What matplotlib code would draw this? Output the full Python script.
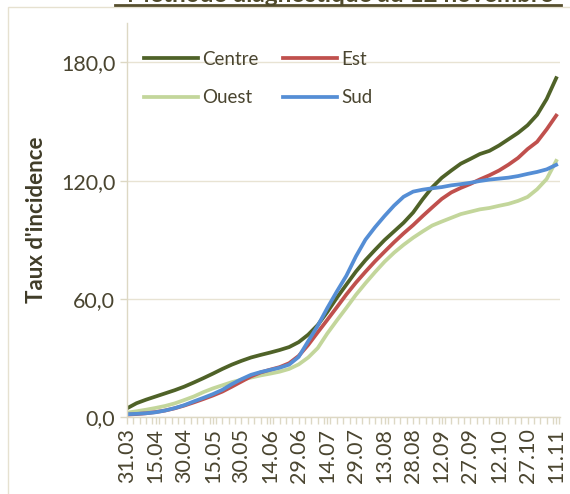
import numpy as np
import matplotlib
matplotlib.use("Agg")
import matplotlib.pyplot as plt
from matplotlib.lines import Line2D
from matplotlib.patches import Rectangle

plt.rcParams['font.family'] = ['Lato', 'DejaVu Sans']

# DATA (jours depuis le 31.03, un point tous les 5 jours)
days = list(range(0, 226, 5))

centre = [4.4, 7.0, 8.8, 10.4, 12.0, 13.6, 15.4, 17.5, 19.7, 22.0,
          24.4, 26.6, 28.5, 30.2, 31.5, 32.7, 34.0, 35.5, 38.0, 41.8,
          46.7, 53.3, 60.5, 67.2, 73.8, 79.6, 84.8, 89.8, 94.2, 98.6,
          103.8, 110.5, 116.6, 121.4, 125.1, 128.6, 131.0, 133.5, 135.1, 137.8,
          141.0, 144.2, 148.1, 153.4, 161.4, 172.0]

est = [1.2, 1.5, 1.9, 2.5, 3.3, 4.4, 5.8, 7.4, 9.1, 10.9,
       12.9, 15.4, 18.0, 20.6, 22.6, 24.0, 25.3, 27.3, 31.0, 36.6,
       43.0, 49.3, 55.7, 62.2, 68.2, 73.7, 79.0, 83.9, 88.7, 93.2,
       97.4, 102.0, 106.4, 110.7, 114.0, 116.3, 118.3, 120.6, 122.7, 125.1,
       128.1, 131.5, 136.0, 139.7, 146.0, 153.0]

ouest = [2.2, 2.9, 3.7, 4.6, 5.6, 6.9, 8.6, 10.4, 12.6, 14.5,
         16.1, 17.7, 18.9, 20.0, 21.1, 22.0, 23.0, 24.4, 26.7, 30.2,
         35.0, 42.4, 49.0, 55.4, 62.0, 67.9, 73.5, 78.8, 83.4, 87.4,
         91.0, 94.2, 97.2, 99.2, 101.1, 103.0, 104.2, 105.4, 106.1, 107.2,
         108.2, 109.7, 111.7, 115.6, 120.8, 130.0]

sud = [1.4, 1.6, 1.9, 2.4, 3.3, 4.5, 6.0, 7.9, 9.7, 11.6,
       13.8, 16.7, 19.2, 21.4, 22.8, 23.9, 25.0, 26.6, 30.5, 38.5,
       46.3, 55.3, 63.7, 71.7, 81.5, 90.0, 96.3, 102.0, 107.3, 111.8,
       114.4, 115.4, 116.1, 116.7, 117.6, 118.2, 118.9, 119.8, 120.5, 121.0,
       121.5, 122.3, 123.4, 124.4, 125.7, 128.0]

date_labels = ["31.03", "15.04", "30.04", "15.05", "30.05", "14.06", "29.06", "14.07",
               "29.07", "13.08", "28.08", "12.09", "27.09", "12.10", "27.10", "11.11"]
y_ticks = [0, 60, 120, 180]

text_col = "#4a4530"
grid_col = "#e8e3d3"

fig = plt.figure(figsize=(5.7, 4.94), dpi=100)
ax = fig.add_axes([127/570, 77/494, 433/570, 394/494])

ax.plot(days, centre, color="#4f6228", lw=2.7, label="Centre")
ax.plot(days, ouest, color="#c3d69b", lw=2.7, label="Ouest")
ax.plot(days, est, color="#c0504d", lw=2.7, label="Est")
ax.plot(days, sud, color="#558ed5", lw=2.7, label="Sud")

ax.set_xlim(0, 227)
ax.set_ylim(0, 200)
ax.set_yticks(y_ticks)
ax.set_yticklabels([f"{v:.1f}".replace(".", ",") for v in y_ticks])
ax.set_xticks([15 * i for i in range(len(date_labels))])
ax.set_xticklabels(date_labels, rotation=90)
ax.set_xticks(np.arange(0, 227, 10 / 3), minor=True)

for s in ["top", "right"]:
    ax.spines[s].set_visible(False)
for s in ["left", "bottom"]:
    ax.spines[s].set_color("#ddd8c4")
    ax.spines[s].set_linewidth(1.0)

ax.grid(axis="y", color=grid_col, lw=1.0)
ax.set_axisbelow(True)
ax.tick_params(axis="both", which="both", color="#ddd8c4", length=5, width=1,
               labelcolor=text_col, labelsize=15.5)
ax.tick_params(axis="x", which="minor", length=5)
ax.tick_params(axis="x", pad=3)

ax.set_ylabel("Taux d'incidence", fontsize=16, fontweight="bold", color="#403c28", labelpad=10)

leg = ax.legend(ncol=2, loc="upper left", bbox_to_anchor=(0.039, 0.93), frameon=False,
                fontsize=13.5, handlelength=2.9, handletextpad=0.2, columnspacing=1.3,
                labelspacing=1.15, borderpad=0, borderaxespad=0)
for t in leg.get_texts():
    t.set_color(text_col)

# titre coupé en haut + soulignement
fig.text(340/570, 1 - 2.0/494, "Méthode diagnostique au 12 novembre", ha="center", va="baseline",
         fontsize=17.5, fontweight="bold", color="#4f4a2a")
fig.add_artist(Line2D([115/570, 561/570], [1 - 5.3/494, 1 - 5.3/494], color="#574f2e", lw=2.0,
                      transform=fig.transFigure))
# bordure de la zone graphique
fig.add_artist(Rectangle((8/570, -0.1), 1.2, 1 - 7/494 + 0.1, fill=False, edgecolor="#e6e1d0",
                         lw=1.0, transform=fig.transFigure))

fig.savefig("out.png", dpi=100)
